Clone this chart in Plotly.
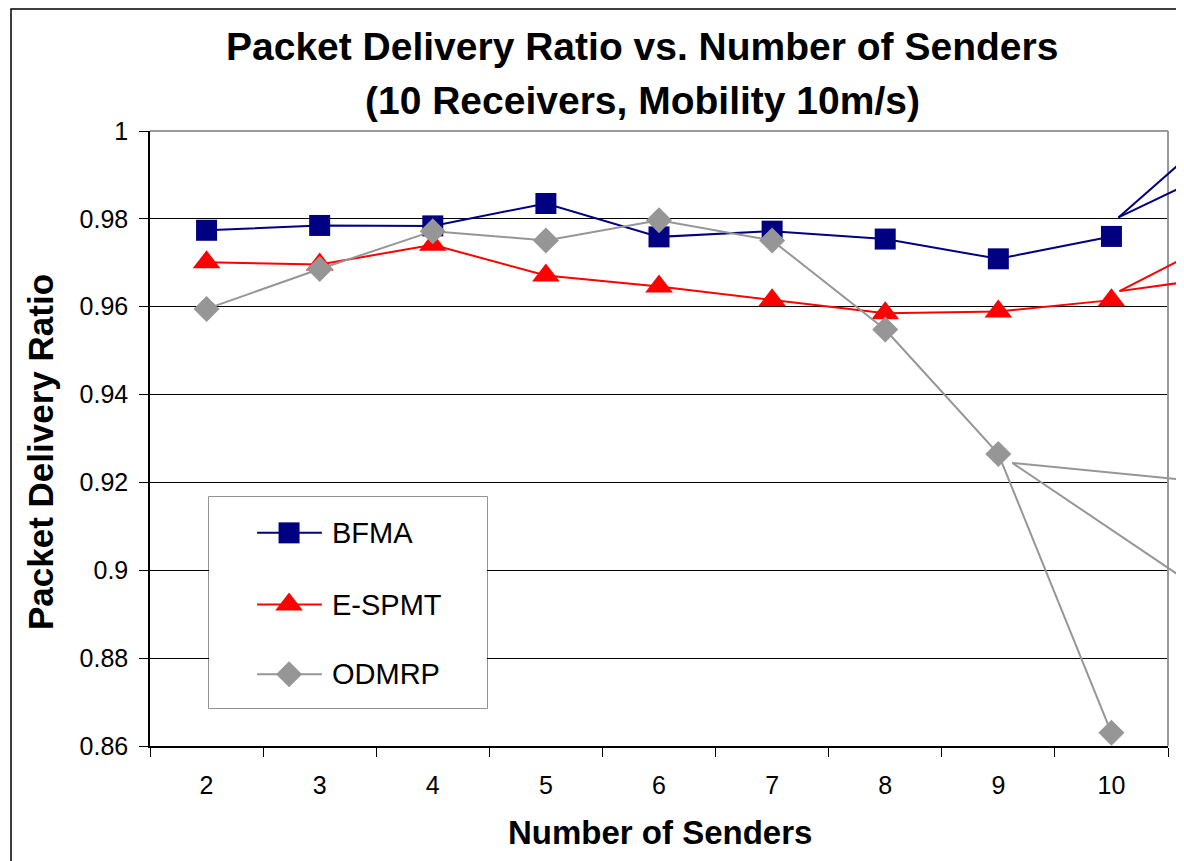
import plotly.graph_objects as go

# ---------------- data ----------------
senders = [2, 3, 4, 5, 6, 7, 8, 9, 10]
bfma = [0.9774, 0.9785, 0.9784, 0.9835, 0.9759, 0.9772, 0.9754, 0.9709, 0.9760]
espmt = [0.9701, 0.9696, 0.9741, 0.9671, 0.9646, 0.9615, 0.9585, 0.9589, 0.9615]
odmrp = [0.9595, 0.9686, 0.9772, 0.9751, 0.9797, 0.9751, 0.9548, 0.9265, 0.8630]
series_names = ["BFMA", "E-SPMT", "ODMRP"]
y_ticks = [0.86, 0.88, 0.90, 0.92, 0.94, 0.96, 0.98, 1.00]
y_ticktext = ["0.86", "0.88", "0.9", "0.92", "0.94", "0.96", "0.98", "1"]

# ---------------- style ----------------
OFF = 8                      # default page body margin
W, H = 1184 - OFF, 861 - OFF
PL, PR, PT, PB = 150, 1168, 131, 746   # plot area in page pixels
FONT = "Liberation Sans, Arial, sans-serif"
colors = {"BFMA": "#000080", "E-SPMT": "#FF0000", "ODMRP": "#969696"}
symbols = {"BFMA": "square", "E-SPMT": "triangle-up", "ODMRP": "diamond"}
msizes = {"BFMA": 21, "E-SPMT": 24, "ODMRP": 20}
values = {"BFMA": bfma, "E-SPMT": espmt, "ODMRP": odmrp}

YMIN, YMAX = 0.86, 1.0


def px_x(p):
    return (p - PL) / (PR - PL)


def px_y(p):
    return (PB - p) / (PB - PT)


def data_paper(i, v):
    return (i + 0.5) / len(senders), (v - YMIN) / (YMAX - YMIN)


fig = go.Figure()
xcat = [str(s) for s in senders]
for name in series_names:
    fig.add_trace(go.Scatter(
        x=xcat, y=values[name], mode="lines+markers", name=name,
        line=dict(color=colors[name], width=2),
        marker=dict(symbol=symbols[name], size=msizes[name], color=colors[name],
                    line=dict(width=0)),
        showlegend=False, cliponaxis=False,
    ))

# ---------------- manual legend (subplot x2/y2) ----------------
LB = (209, 497, 487, 708)  # left, top, right, bottom px
leg_rows = [0.83, 0.49, 0.16]
for name, yy in zip(series_names, leg_rows):
    fig.add_trace(go.Scatter(
        x=[0.173, 0.406], y=[yy, yy], mode="lines",
        line=dict(color=colors[name], width=2),
        xaxis="x2", yaxis="y2", showlegend=False, hoverinfo="skip",
    ))
    fig.add_trace(go.Scatter(
        x=[0.288], y=[yy], mode="markers",
        marker=dict(symbol=symbols[name], size=msizes[name], color=colors[name],
                    line=dict(width=0)),
        xaxis="x2", yaxis="y2", showlegend=False, hoverinfo="skip", cliponaxis=False,
    ))
    fig.add_annotation(x=0.437, y=yy, xref="x2", yref="y2", text=name, showarrow=False,
                       xanchor="left", yanchor="middle",
                       font=dict(family=FONT, size=29, color="black"))

shapes = []
# legend box
shapes.append(dict(type="rect", xref="x2 domain", yref="y2 domain", x0=0, x1=1, y0=0, y1=1,
                   line=dict(color="#707070", width=1.5), fillcolor="white", layer="below"))
# plot area gray top/right border
shapes.append(dict(type="line", xref="paper", yref="paper", x0=0, x1=1, y0=1, y1=1,
                   line=dict(color="#999999", width=2)))
shapes.append(dict(type="line", xref="paper", yref="paper", x0=1, x1=1, y0=0, y1=1,
                   line=dict(color="#999999", width=2)))
# outer chart frame (cut off at right/bottom)
shapes.append(dict(type="rect", xref="paper", yref="paper",
                   x0=px_x(11), x1=px_x(1300), y0=px_y(950), y1=px_y(9),
                   line=dict(color="black", width=1.5), fillcolor="rgba(0,0,0,0)"))

# callout leader lines (labels are outside the picture)
callouts = [
    ("BFMA", 8, (7, -19), [158, 185]),
    ("E-SPMT", 8, (8, -9), [257, 282]),
    ("ODMRP", 7, (14, 9), [480, 580]),
]
for name, idx, (dx, dy), ends in callouts:
    vx, vy = data_paper(idx, values[name][idx])
    vx += dx / (PR - PL)
    vy -= dy / (PB - PT)
    for ey in ends:
        shapes.append(dict(type="line", xref="paper", yref="paper",
                           x0=vx, y0=vy, x1=px_x(1186), y1=px_y(ey),
                           line=dict(color=colors[name], width=2)))

fig.update_layout(shapes=shapes)

# titles
fig.add_annotation(x=px_x(642), y=px_y(46), xref="paper", yref="paper",
                   text="<b>Packet Delivery Ratio vs. Number of Senders</b>", showarrow=False,
                   xanchor="center", yanchor="middle", font=dict(family=FONT, size=39, color="black"))
fig.add_annotation(x=px_x(642), y=px_y(100), xref="paper", yref="paper",
                   text="<b>(10 Receivers, Mobility 10m/s)</b>", showarrow=False,
                   xanchor="center", yanchor="middle", font=dict(family=FONT, size=39, color="black"))
fig.add_annotation(x=px_x(660), y=px_y(832), xref="paper", yref="paper",
                   text="<b>Number of Senders</b>", showarrow=False,
                   xanchor="center", yanchor="middle", font=dict(family=FONT, size=33, color="black"))
fig.add_annotation(x=px_x(40), y=px_y(452), xref="paper", yref="paper", textangle=-90,
                   text="<b>Packet Delivery Ratio</b>", showarrow=False,
                   xanchor="center", yanchor="middle", font=dict(family=FONT, size=35, color="black"))

fig.update_layout(
    width=W, height=H,
    margin=dict(l=PL - OFF, r=W - (PR - OFF), t=PT - OFF, b=H - (PB - OFF), pad=0),
    paper_bgcolor="white", plot_bgcolor="white",
    font=dict(family=FONT, color="black"),
    showlegend=False,
    xaxis=dict(type="category", range=[-0.5, len(senders) - 0.5], tickson="boundaries",
               ticks="outside", ticklen=9, tickwidth=1, tickcolor="black",
               showline=True, linecolor="black", linewidth=1.5, showgrid=False,
               tickfont=dict(family=FONT, size=25, color="black"), zeroline=False,
               ticklabelstandoff=16),
    yaxis=dict(range=[YMIN, YMAX], tickvals=y_ticks, ticktext=y_ticktext,
               ticks="outside", ticklen=9, tickwidth=1, tickcolor="black",
               showline=True, linecolor="black", linewidth=1.5,
               showgrid=True, gridcolor="black", gridwidth=1, zeroline=False,
               tickfont=dict(family=FONT, size=25, color="black"), ticklabelstandoff=6),
    xaxis2=dict(domain=[px_x(LB[0]), px_x(LB[2])], range=[0, 1], anchor="y2", visible=False,
                fixedrange=True),
    yaxis2=dict(domain=[px_y(LB[3]), px_y(LB[1])], range=[0, 1], anchor="x2", visible=False,
                fixedrange=True),
)

fig.write_html("out.html")
